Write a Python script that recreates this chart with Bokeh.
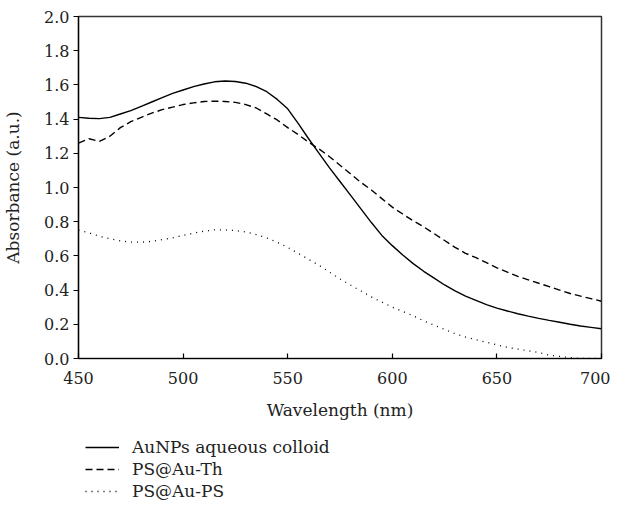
from bokeh.plotting import figure
from bokeh.layouts import column
from bokeh.models import Legend, LegendItem, FixedTicker, Range1d, NumeralTickFormatter
from bokeh.embed import file_html
from bokeh.resources import INLINE

wavelength = list(range(450, 705, 5))

aunps_colloid = [1.41, 1.405, 1.403, 1.41, 1.43, 1.45, 1.475, 1.50, 1.525, 1.55,
                 1.57, 1.59, 1.605, 1.618, 1.623, 1.62, 1.61, 1.59, 1.56, 1.515,
                 1.46, 1.375, 1.285, 1.20, 1.115, 1.035, 0.955, 0.875, 0.795, 0.72,
                 0.66, 0.605, 0.555, 0.51, 0.47, 0.43, 0.395, 0.365, 0.34, 0.315,
                 0.295, 0.278, 0.262, 0.248, 0.235, 0.223, 0.212, 0.20, 0.19, 0.182,
                 0.174]

ps_au_th = [1.26, 1.285, 1.27, 1.30, 1.35, 1.385, 1.41, 1.435, 1.455, 1.47,
            1.485, 1.495, 1.503, 1.505, 1.503, 1.498, 1.485, 1.465, 1.43, 1.395,
            1.35, 1.31, 1.265, 1.225, 1.18, 1.13, 1.08, 1.03, 0.985, 0.935,
            0.885, 0.845, 0.805, 0.77, 0.73, 0.69, 0.65, 0.615, 0.59, 0.56,
            0.53, 0.505, 0.48, 0.46, 0.44, 0.42, 0.40, 0.38, 0.365, 0.35,
            0.335]

ps_au_ps = [0.75, 0.735, 0.715, 0.70, 0.688, 0.68, 0.68, 0.685, 0.695, 0.705,
            0.72, 0.733, 0.745, 0.752, 0.752, 0.748, 0.74, 0.725, 0.705, 0.68,
            0.65, 0.615, 0.58, 0.545, 0.505, 0.465, 0.43, 0.395, 0.36, 0.33,
            0.30, 0.275, 0.25, 0.22, 0.195, 0.17, 0.145, 0.125, 0.11, 0.095,
            0.08, 0.065, 0.055, 0.045, 0.035, 0.02, 0.012, 0.005, 0.0, 0.0,
            0.0]

series_labels = ["AuNPs aqueous colloid", "PS@Au-Th", "PS@Au-PS"]
x_ticks = [450, 500, 550, 600, 650, 700]
y_ticks = [0.0, 0.2, 0.4, 0.6, 0.8, 1.0, 1.2, 1.4, 1.6, 1.8, 2.0]

FONT = "DejaVu Serif"
TXT = "#222222"
series = [aunps_colloid, ps_au_th, ps_au_ps]
styles = [dict(line_color="black", line_width=1.4),
          dict(line_color="black", line_width=1.4, line_dash="7 4"),
          dict(line_color="black", line_width=1.3, line_dash="1 5")]

p = figure(width=610, height=430, output_backend="svg", toolbar_location=None,
           x_range=Range1d(450, 700), y_range=Range1d(0, 2.0),
           min_border_left=77, min_border_right=9, min_border_top=16, min_border_bottom=72)

p.background_fill_color = "white"
p.border_fill_color = "white"
p.grid.visible = False
p.outline_line_color = "#333333"
p.outline_line_width = 1.5

for ys, st in zip(series, styles):
    p.line(wavelength, ys, **st)

for ax in (p.xaxis[0], p.yaxis[0]):
    ax.axis_line_color = "black"
    ax.axis_line_width = 1.2
    ax.major_tick_line_color = "black"
    ax.major_tick_line_width = 1.2
    ax.minor_tick_line_color = None
    ax.major_label_text_font = FONT
    ax.major_label_text_font_size = "16px"
    ax.major_label_text_color = TXT
    ax.axis_label_text_font = FONT
    ax.axis_label_text_font_size = "17px"
    ax.axis_label_text_font_style = "normal"
    ax.axis_label_text_color = TXT

p.xaxis.ticker = FixedTicker(ticks=x_ticks)
p.xaxis.major_tick_in = 5
p.xaxis.major_tick_out = 0
p.xaxis.major_label_standoff = 13
p.xaxis.axis_label = "Wavelength (nm)"
p.xaxis.axis_label_standoff = 13

p.yaxis.ticker = FixedTicker(ticks=y_ticks)
p.yaxis.formatter = NumeralTickFormatter(format="0.0")
p.yaxis.major_tick_in = 0
p.yaxis.major_tick_out = 5
p.yaxis.major_label_standoff = 4
p.yaxis.axis_label = "Absorbance (a.u.)"
p.yaxis.axis_label_standoff = 18

# legend panel below the chart (its lines lie outside its own ranges, so only the legend shows)
p2 = figure(width=610, height=71, output_backend="svg", toolbar_location=None,
            x_range=Range1d(0, 1), y_range=Range1d(0, 1),
            x_axis_location=None, y_axis_location=None,
            min_border_left=0, min_border_right=0, min_border_top=0, min_border_bottom=0)
p2.grid.visible = False
p2.outline_line_color = None
p2.background_fill_color = "white"
p2.border_fill_color = "white"

items = []
for lab, ys, st in zip(series_labels, series, styles):
    r = p2.line(wavelength, ys, **st)
    items.append(LegendItem(label=lab, renderers=[r]))

legend = Legend(items=items, location=(7, 0), orientation="vertical")
legend.label_text_font = FONT
legend.label_text_font_size = "17px"
legend.label_text_color = TXT
legend.glyph_width = 34
legend.glyph_height = 20
legend.label_height = 20
legend.label_standoff = 13
legend.spacing = 2
legend.padding = 0
legend.margin = 0
legend.border_line_color = None
legend.background_fill_alpha = 0
p2.add_layout(legend, "center")

layout = column(p, p2, spacing=0)
open("out.html", "w").write(file_html(layout, INLINE))
